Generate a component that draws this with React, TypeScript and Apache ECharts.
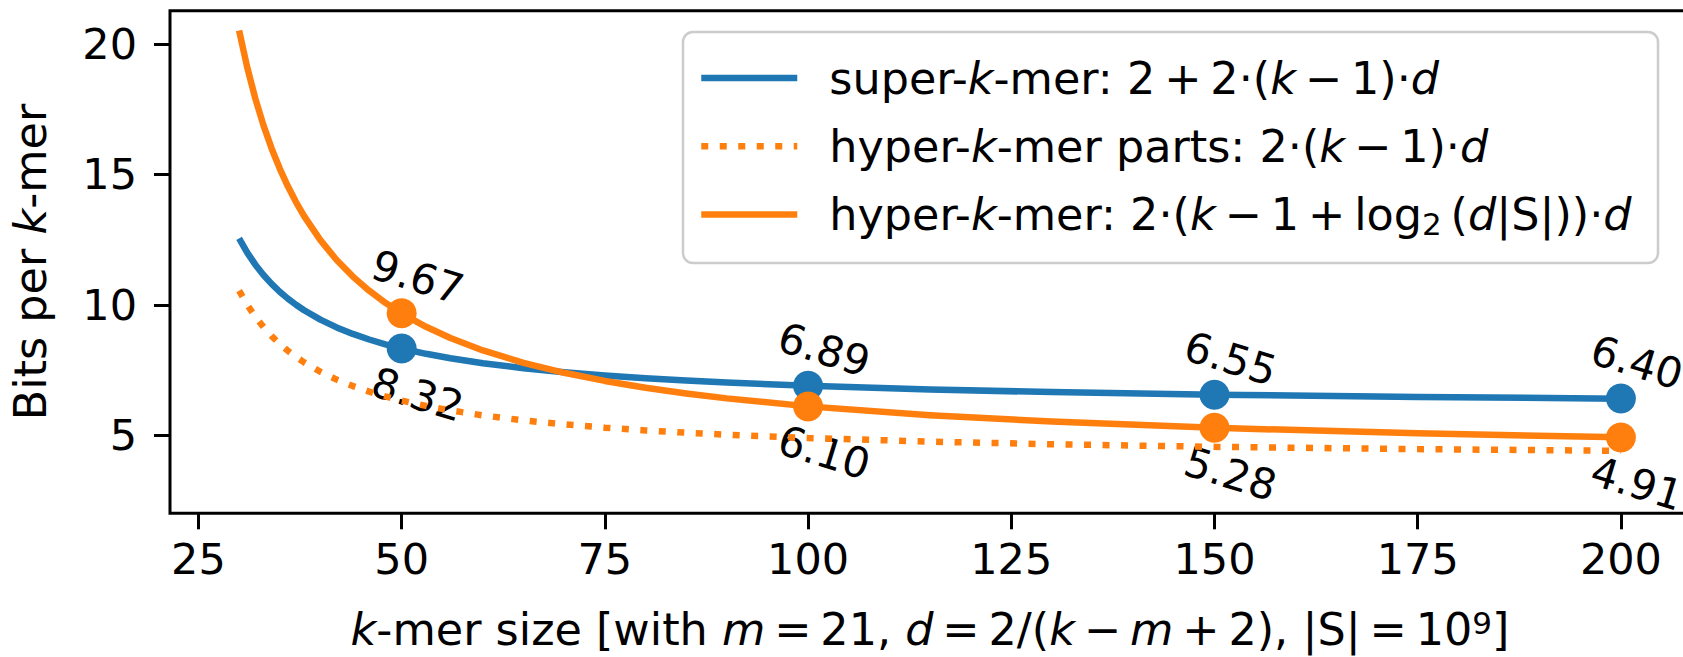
import React, { useEffect, useRef } from "react";
import * as echarts from "echarts";

// k-mer sizes sampled along the curves
const kValues = [30, 31, 32, 33, 34, 35, 36, 37, 38, 40, 42, 44, 46, 48, 50, 53, 56, 60, 65, 70, 75, 80, 85, 90, 100, 115, 130, 150, 175, 200];
// super-k-mer: 2 + 2(k-1)d
const superValues = [12.545, 12.0, 11.538, 11.143, 10.8, 10.5, 10.235, 10.0, 9.789, 9.429, 9.13, 8.88, 8.667, 8.483, 8.323, 8.118, 7.946, 7.756, 7.565, 7.412, 7.286, 7.18, 7.091, 7.014, 6.889, 6.75, 6.649, 6.55, 6.462, 6.398];
// hyper-k-mer parts: 2(k-1)d
const partsValues = [10.545, 10.0, 9.538, 9.143, 8.8, 8.5, 8.235, 8.0, 7.789, 7.429, 7.13, 6.88, 6.667, 6.483, 6.323, 6.118, 5.946, 5.756, 5.565, 5.412, 5.286, 5.18, 5.091, 5.014, 4.889, 4.75, 4.649, 4.55, 4.462, 4.398];
// hyper-k-mer: 2(k-1+log2(d|S|))d
const hyperValues = [20.523, 19.104, 17.907, 16.883, 15.997, 15.224, 14.543, 13.939, 13.4, 12.477, 11.717, 11.08, 10.54, 10.074, 9.67, 9.154, 8.723, 8.248, 7.772, 7.39, 7.078, 6.817, 6.597, 6.408, 6.102, 5.763, 5.517, 5.278, 5.067, 4.915];

// highlighted points
const markerK = [50, 100, 150, 200];
const superMarks = [8.32, 6.89, 6.55, 6.4];
const hyperMarks = [9.67, 6.1, 5.28, 4.91];

// tick labels
const xTicks = [25, 50, 75, 100, 125, 150, 175, 200];
const yTicks = [5, 10, 15, 20];

const TS = "\u2009"; // thin space around math operators
const seriesNames = ["super-k-mer", "hyper-k-mer parts", "hyper-k-mer"];
const legendTexts: Record<string, string> = {
  "super-k-mer": `super-{i|k}-mer: 2${TS}+${TS}2·({i|k}${TS}−${TS}1)·{i|d}`,
  "hyper-k-mer parts": `hyper-{i|k}-mer parts: 2·({i|k}${TS}−${TS}1)·{i|d}`,
  "hyper-k-mer": `hyper-{i|k}-mer: 2·({i|k}${TS}−${TS}1${TS}+${TS}log{sub|2}${TS}({i|d}|S|))·{i|d}`,
};
const xName = `{i|k}-mer size [with {i|m}${TS}=${TS}21, {i|d}${TS}=${TS}2/({i|k}${TS}−${TS}{i|m}${TS}+${TS}2), |S|${TS}=${TS}10{sup|9}]`;
const yName = "Bits per {i|k}-mer";

const FONT = "DejaVu Sans";
const FS = 44.5; // axis names, legend
const TFS = 43; // tick labels
const AFS = 42; // point annotations
const LH = 50;
const XLH = 44;
const BLUE = "#1f77b4";
const ORANGE = "#ff7f0e";

const rich = {
  i: { fontStyle: "italic", fontFamily: FONT, fontSize: FS, color: "#000", lineHeight: LH },
  sub: { fontFamily: FONT, fontSize: 31, color: "#000", lineHeight: 31, verticalAlign: "bottom" },
  sup: { fontFamily: FONT, fontSize: 31, color: "#000", lineHeight: 31, verticalAlign: "top" },
};
const xRich = {
  i: { fontStyle: "italic", fontFamily: FONT, fontSize: FS, color: "#000", lineHeight: XLH },
  sup: { fontFamily: FONT, fontSize: 31, color: "#000", lineHeight: 31, verticalAlign: "top" },
};

function pairs(xs: number[], ys: number[]) {
  return xs.map((x, i) => [x, ys[i]]);
}

function markerData(own: number[], other: number[]) {
  return markerK.map((k, i) => {
    const above = own[i] >= other[i];
    return {
      value: [k, own[i]],
      label: { position: above ? [31, -21] : [31, 61] },
    };
  });
}

const markerLabel = {
  show: true,
  formatter: (p: any) => p.value[1].toFixed(2),
  rotate: -17,
  align: "center",
  verticalAlign: "middle",
  fontFamily: FONT,
  fontSize: AFS,
  color: "#000",
};

export default function App() {
  const ref = useRef<HTMLDivElement>(null);
  useEffect(() => {
    if (!ref.current) return;
    const chart = echarts.init(ref.current, undefined, { renderer: "svg" });
    chart.setOption({
      animation: false,
      backgroundColor: "#fff",
      grid: {
        left: 170,
        top: 10.7,
        width: 1520,
        height: 502.6,
        show: true,
        borderColor: "#000",
        borderWidth: 3,
        containLabel: false,
        outerBoundsMode: "none",
      },
      xAxis: {
        type: "value",
        min: 21.5,
        max: 208.5,
        axisLine: { show: false },
        axisTick: { show: true, customValues: xTicks, length: 16, lineStyle: { color: "#000", width: 3 } },
        axisLabel: { customValues: xTicks, fontFamily: FONT, fontSize: TFS, color: "#000", margin: 24 },
        splitLine: { show: false },
        name: xName,
        nameLocation: "middle",
        nameGap: 94.5,
        nameTextStyle: {
          fontFamily: FONT,
          fontSize: FS,
          color: "#000",
          lineHeight: XLH,
          rich: xRich,
        },
      },
      yAxis: {
        type: "value",
        min: 2,
        max: 21.28,
        axisLine: { show: false },
        axisTick: { show: true, customValues: yTicks, length: 16, lineStyle: { color: "#000", width: 3 } },
        axisLabel: { customValues: yTicks, fontFamily: FONT, fontSize: TFS, color: "#000", margin: 33 },
        splitLine: { show: false },
        name: yName,
        nameLocation: "middle",
        nameGap: 115,
        nameTextStyle: {
          fontFamily: FONT,
          fontSize: FS,
          color: "#000",
          lineHeight: LH,
          rich,
        },
      },
      graphic: [
        {
          type: "rect",
          z: 3,
          shape: { x: 683, y: 32, width: 975, height: 231, r: 10 },
          style: { fill: "rgba(255,255,255,0.8)", stroke: "#cccccc", lineWidth: 2.5 },
        },
      ],
      legend: {
        z: 10,
        orient: "vertical",
        left: 698,
        top: 53,
        padding: 0,
        itemGap: 18.3,
        itemWidth: 96,
        itemHeight: 50,
        selectedMode: false,
        data: seriesNames,
        lineStyle: { width: 6.5 },
        itemStyle: { color: "rgba(0,0,0,0)", opacity: 0, borderWidth: 0 },
        formatter: (n: string) => legendTexts[n],
        textStyle: {
          fontFamily: FONT,
          fontSize: FS,
          color: "#000",
          lineHeight: LH,
          padding: [0, 0, 0, 27],
          rich,
        },
      },
      series: [
        {
          name: seriesNames[0],
          type: "line",
          data: pairs(kValues, superValues),
          symbol: "none",
          lineStyle: { color: BLUE, width: 6.5, join: "round" },
          itemStyle: { color: BLUE },
        },
        {
          name: "super-marks",
          type: "scatter",
          data: markerData(superMarks, hyperMarks),
          symbolSize: 30,
          itemStyle: { color: BLUE, opacity: 1 },
          label: markerLabel,
        },
        {
          name: seriesNames[1],
          type: "line",
          data: pairs(kValues, partsValues),
          symbol: "none",
          lineStyle: { color: ORANGE, width: 6.5, type: [7, 11.5], cap: "butt" },
          itemStyle: { color: ORANGE },
        },
        {
          name: seriesNames[2],
          type: "line",
          data: pairs(kValues, hyperValues),
          symbol: "none",
          lineStyle: { color: ORANGE, width: 6.5, join: "round" },
          itemStyle: { color: ORANGE },
        },
        {
          name: "hyper-marks",
          type: "scatter",
          data: markerData(hyperMarks, superMarks),
          symbolSize: 30,
          itemStyle: { color: ORANGE, opacity: 1 },
          label: markerLabel,
        },
      ],
    });
    return () => chart.dispose();
  }, []);
  return <div ref={ref} style={{ position: "absolute", left: 0, top: 0, width: 1683, height: 657 }} />;
}
